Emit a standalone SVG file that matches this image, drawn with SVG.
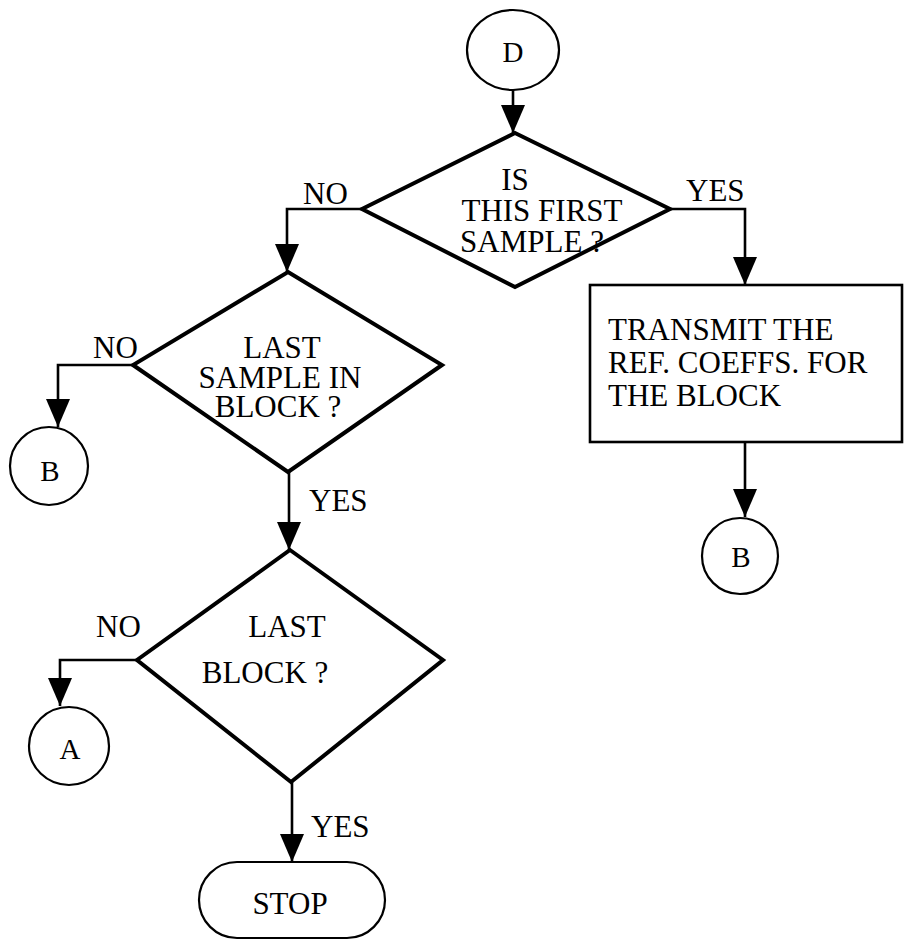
<svg xmlns="http://www.w3.org/2000/svg" width="906" height="941" viewBox="0 0 906 941">
  <style>
    text { font-family: "Liberation Serif", "Times New Roman", serif; font-size: 31px; fill: #000; }
    .mid { text-anchor: middle; }
    .decision { fill: #fff; stroke: #000; stroke-width: 4; stroke-linejoin: miter; }
    .connector-node { fill: #fff; stroke: #000; stroke-width: 2.2; }
    .process { fill: #fff; stroke: #000; stroke-width: 2.6; }
    .flow { fill: none; stroke: #000; stroke-width: 2.6; marker-end: url(#arrow); }
  </style>
  <defs>
    <marker id="arrow" markerUnits="userSpaceOnUse" markerWidth="28" markerHeight="24" refX="28" refY="12" orient="auto">
      <path d="M0,0 L28,12 L0,24 z" fill="#000"/>
    </marker>
  </defs>

  <rect width="906" height="941" fill="#fff"/>

  <g id="connectors">
    <line class="flow" x1="513" y1="90" x2="513" y2="133"/>
    <polyline class="flow" points="362,209 287,209 287,272"/>
    <polyline class="flow" points="670,209 745,209 745,285"/>
    <line class="flow" x1="745" y1="442" x2="745" y2="517"/>
    <polyline class="flow" points="133,365 58,365 58,427"/>
    <line class="flow" x1="289" y1="472" x2="289" y2="550"/>
    <polyline class="flow" points="137,660 60,660 60,706"/>
    <line class="flow" x1="292" y1="782" x2="292" y2="862"/>
  </g>

  <g id="labels">
    <text x="303" y="204">NO</text>
    <text x="686" y="201">YES</text>
    <text x="93" y="358">NO</text>
    <text x="309" y="511">YES</text>
    <text x="96" y="637">NO</text>
    <text x="311" y="837">YES</text>
  </g>

  <g id="start-d">
    <ellipse class="connector-node" cx="513" cy="50" rx="46" ry="40"/>
    <text class="mid" x="513" y="62" style="font-size:29px">D</text>
  </g>

  <g id="first-sample">
    <polygon class="decision" points="515,133 670,209 515,287 362,209"/>
    <text class="mid" x="515" y="190">IS</text>
    <text class="mid" x="542" y="221">THIS FIRST</text>
    <text class="mid" x="532" y="252">SAMPLE ?</text>
  </g>

  <g id="transmit">
    <rect class="process" x="590" y="285" width="312" height="157"/>
    <text x="608" y="340">TRANSMIT THE</text>
    <text x="608" y="373">REF. COEFFS. FOR</text>
    <text x="608" y="406">THE BLOCK</text>
  </g>

  <g id="goto-b-right">
    <circle class="connector-node" cx="740" cy="556" r="38"/>
    <text class="mid" x="741" y="567" style="font-size:29px">B</text>
  </g>

  <g id="last-sample">
    <polygon class="decision" points="288,272 442,365 288,472 133,365"/>
    <text class="mid" x="282" y="358">LAST</text>
    <text class="mid" x="280" y="388">SAMPLE IN</text>
    <text class="mid" x="278" y="417">BLOCK ?</text>
  </g>

  <g id="goto-b-left">
    <circle class="connector-node" cx="49" cy="466" r="39"/>
    <text class="mid" x="50" y="481" style="font-size:29px">B</text>
  </g>

  <g id="last-block">
    <polygon class="decision" points="290,550 443,660 291,782 137,660"/>
    <text class="mid" x="287" y="637">LAST</text>
    <text class="mid" x="265" y="683">BLOCK ?</text>
  </g>

  <g id="goto-a">
    <ellipse class="connector-node" cx="69" cy="746" rx="40" ry="39"/>
    <text class="mid" x="70" y="759" style="font-size:29px">A</text>
  </g>

  <g id="stop">
    <rect class="connector-node" x="199" y="862" width="186" height="76" rx="38" ry="38"/>
    <text class="mid" x="290" y="914">STOP</text>
  </g>
</svg>
